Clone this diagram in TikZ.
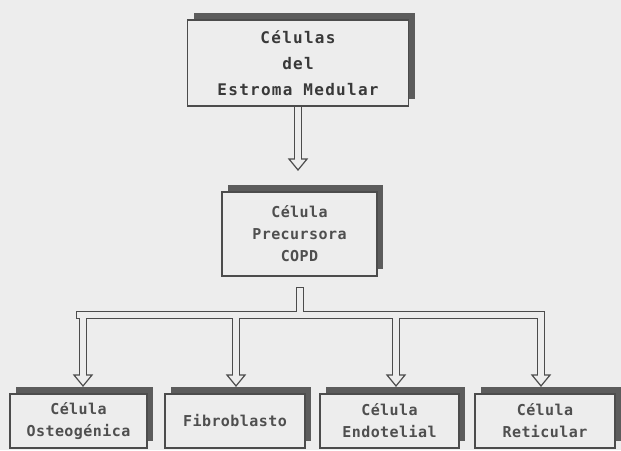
\documentclass[tikz,border=0pt]{standalone}
\usepackage{fontspec}
\usetikzlibrary{shadows,backgrounds}
\newfontfamily\headfont{DejaVu Sans Mono}[LetterSpace=8]
\newfontfamily\cellfont{DejaVu Sans Mono}[LetterSpace=3]
\definecolor{paper}{gray}{0.93}
\definecolor{ink}{gray}{0.30}
\definecolor{shade}{gray}{0.36}
\begin{document}
\begin{tikzpicture}[x=1pt, y=-1pt]
\tikzstyle{box}=[draw=ink, line width=1.1pt, fill=paper, text=gray!62!black, align=center,
  drop shadow={shadow xshift=6pt, shadow yshift=7pt, fill=shade, opacity=1},
  font=\cellfont\bfseries\fontsize{15}{22}\selectfont]
\tikzstyle{pipe}=[draw=ink, line width=8pt, line cap=rect]
\tikzstyle{pipein}=[draw=paper, line width=5.6pt, line cap=rect]
\tikzstyle{head}=[draw=ink, fill=paper, line width=1.2pt, line join=miter]
\useasboundingbox (0,0) rectangle (621,450);

\node(estroma)[box, minimum width=221pt, minimum height=86pt, text=gray!45!black,
  font=\headfont\bfseries\fontsize{16}{26}\selectfont] at (298, 63) {Células\\del\\Estroma Medular};
\node(copd)[box, minimum width=155pt, minimum height=84pt] at (299.5, 234) {Célula\\Precursora\\COPD};
\node(osteo)[box, minimum width=137pt, minimum height=54pt] at ( 78.5, 421) {Célula\\Osteogénica};
\node(fibro)[box, minimum width=140pt, minimum height=54pt] at (235, 421) {Fibroblasto};
\node(endo)[box, minimum width=139pt, minimum height=54pt] at (389.5, 421) {Célula\\Endotelial};
\node(retic)[box, minimum width=140pt, minimum height=54pt] at (545, 421) {Célula\\Reticular};

\coordinate(t0) at (298, 170);
\coordinate(st) at (300, 291);
\coordinate(jn) at (300, 315);
\coordinate(bl) at ( 80, 315);
\coordinate(br) at (540, 315);
\coordinate(d1) at ( 83, 386);
\coordinate(d2) at (236, 386);
\coordinate(d3) at (396, 386);
\coordinate(d4) at (541, 386);

\begin{pgfonlayer}{background}
\fill[paper] (0,0) rectangle (621,450);
% outer lines
\draw[pipe] (estroma.south) -- ([yshift=11pt]t0);
\draw[pipe] (st) -- (jn);
\draw[pipe] (bl) -- (br);
\foreach \d in {d1,d2,d3,d4}
  \draw[pipe] (\d |- jn) -- ([yshift=11pt]\d);
% heads
\foreach \d in {t0,d1,d2,d3,d4}
  \draw[head] (\d) -- ++(-9,-11) -- ++(18,0) -- cycle;
% inner lines
\draw[pipein] (estroma.south) -- ([yshift=11pt]t0);
\draw[pipein] (st) -- (jn);
\draw[pipein] (bl) -- (br);
\foreach \d in {d1,d2,d3,d4}
  \draw[pipein] (\d |- jn) -- ([yshift=11pt]\d);
\end{pgfonlayer}

\end{tikzpicture}
\end{document}
